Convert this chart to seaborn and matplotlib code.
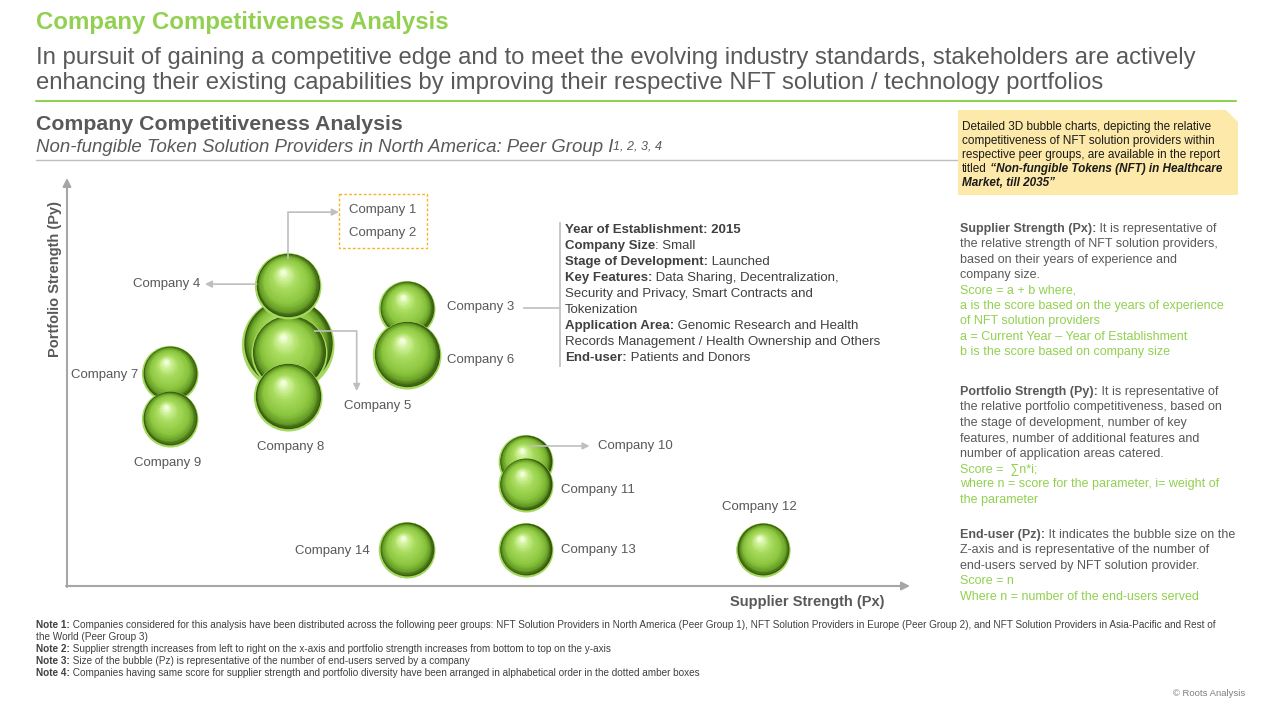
import matplotlib
matplotlib.use("Agg")
import matplotlib.pyplot as plt
import pandas as pd
import seaborn as sns
from matplotlib.colors import LinearSegmentedColormap
from matplotlib.transforms import offset_copy
from matplotlib.patches import Polygon, Rectangle

# Datos de las burbujas (Px = fuerza del proveedor, Py = fuerza del portafolio, Pz = usuarios finales)
companies = ["Company 1", "Company 5", "Company 4", "Company 8", "Company 7", "Company 9",
             "Company 3", "Company 6", "Company 10", "Company 11", "Company 14", "Company 13", "Company 12"]
supplier_px = [2.62, 2.63, 2.62, 2.62, 1.22, 1.22, 4.03, 4.03, 5.44, 5.44, 4.03, 5.44, 8.26]
portfolio_py = [5.91, 5.71, 7.35, 4.63, 5.20, 4.09, 6.79, 5.66, 3.04, 2.48, 0.88, 0.88, 0.88]
end_user_pz = [46, 38, 33, 34, 28, 28, 28, 34, 27, 27, 28, 27, 27]

df = pd.DataFrame({"company": companies, "px": supplier_px, "py": portfolio_py, "pz": end_user_pz})

GREEN = "#92d050"
GRAY = "#595959"
DARK = "#404040"
LINE = "#bfbfbf"
W, H = 1280, 720

sns.set_theme(style="white")
plt.rcParams["font.family"] = ["Liberation Sans", "DejaVu Sans"]

fig = plt.figure(figsize=(12.8, 7.2), dpi=100)
ax = fig.add_axes([67 / W, 1 - 586 / H, (910 - 67) / W, (586 - 178) / H])
ax.set_xlim(0, 10)
ax.set_ylim(0, 10)
ax.set_axis_off()

# capa de dibujo en pixeles (y hacia abajo)
ov = fig.add_axes([0, 0, 1, 1], zorder=5)
ov.set_xlim(0, W)
ov.set_ylim(H, 0)
ov.set_axis_off()


def size_pts(r):
    return (2 * r * 72 / fig.dpi) ** 2


# base de las burbujas
sns.scatterplot(data=df, x="px", y="py", s=df["pz"].map(size_pts).to_numpy(), color="#a3d95c",
                edgecolor="none", linewidth=0, legend=False, ax=ax, zorder=1, clip_on=False)
ax.set_axis_off()

sphere_cmap = LinearSegmentedColormap.from_list(
    "sphere", [(0, "#34560c"), (0.12, "#68a028"), (0.3, "#8cc63f"), (0.65, "#a9dc5f"),
               (0.9, "#d8f5a6"), (1, "#f4ffe0")])


def draw_sphere(x, y, r, z):
    ax.scatter([x], [y], s=size_pts(r), color="#a3d95c", lw=0, zorder=z, clip_on=False)
    n = 36
    for i in range(n):
        t = i / (n - 1)
        rr = r * (0.96 - 0.90 * t)
        tr = offset_copy(ax.transData, fig=fig, x=-0.15 * r * t, y=0.03 * r + 0.40 * r * t, units="dots")
        ax.scatter([x], [y], s=size_pts(rr), color=sphere_cmap(t), lw=0, transform=tr,
                   zorder=z + 0.001 * (i + 1), clip_on=False)


for k, row in df.iterrows():
    draw_sphere(row["px"], row["py"], row["pz"], 2 + k)


def bpx(name, dx=0, dy=0):
    i = companies.index(name)
    d = ax.transData.transform((supplier_px[i], portfolio_py[i]))
    x, y = ov.transData.inverted().transform(d)
    return x + dx, y + dy


def label(name, dx, dy, text=None, ha="left"):
    x, y = bpx(name, dx, dy)
    ov.text(x, y, text or name, fontsize=9.5, color=GRAY, ha=ha, va="center")


def arrow(p0, p1):
    ov.annotate("", xy=p1, xytext=p0,
                arrowprops=dict(arrowstyle="-|>", color=LINE, lw=1.2, mutation_scale=10, shrinkA=0, shrinkB=0))


def seg(pts):
    ov.plot([p[0] for p in pts], [p[1] for p in pts], color=LINE, lw=1.2, solid_capstyle="butt")


def run(x, y, parts, size, color=GRAY):
    prev = None
    for s, f in parts:
        kw = dict(fontsize=size, va="center", ha="left", color=color)
        if "b" in f:
            kw["fontweight"] = "bold"
        if "i" in f:
            kw["fontstyle"] = "italic"
        if "g" in f:
            kw["color"] = GREEN
        if prev is None:
            prev = ov.text(x, y, s, **kw)
        else:
            prev = ov.annotate(s, xy=(1, 0.5), xycoords=prev, **kw)
    return prev


# ejes con flechas
ov.annotate("", xy=(67, 178), xytext=(67, 587),
            arrowprops=dict(arrowstyle="-|>", color="#a6a6a6", lw=1.5, mutation_scale=12, shrinkA=0, shrinkB=0))
ov.annotate("", xy=(910, 586), xytext=(66, 586),
            arrowprops=dict(arrowstyle="-|>", color="#a6a6a6", lw=1.5, mutation_scale=12, shrinkA=0, shrinkB=0))
ov.text(55, 279, "Portfolio Strength (Py)", rotation=90, fontsize=10.5, fontweight="bold", color=GRAY,
        ha="center", va="center")
ov.text(884, 602, "Supplier Strength (Px)", fontsize=10.5, fontweight="bold", color=GRAY, ha="right", va="center")

# etiquetas de las empresas
label("Company 7", -32, 1, ha="right")
label("Company 9", -2, 44, ha="center")
label("Company 8", 3, 50, ha="center")
label("Company 3", 40, -2)
label("Company 6", 40, 5)
label("Company 11", 35, 5)
label("Company 13", 35, 0)
label("Company 14", -37, 1, ha="right")
label("Company 12", -4, -43, ha="center")
label("Company 5", 89, 53, ha="center")
label("Company 10", 72, -16)
label("Company 4", -88, -2, ha="right")

arrow(bpx("Company 4", -31, -2), bpx("Company 4", -83, -2))
arrow(bpx("Company 10", 4, -16), bpx("Company 10", 64, -16))
seg([bpx("Company 5", 25, -22), bpx("Company 5", 68, -22)])
arrow(bpx("Company 5", 68, -22), bpx("Company 5", 68, 38))
seg([bpx("Company 4", 0, -27), bpx("Company 4", 0, -74)])
arrow(bpx("Company 4", 0, -74), bpx("Company 4", 51, -74))

bx, by = bpx("Company 4", 51, -92)
ov.add_patch(Rectangle((bx, by), 88, 54, fill=False, edgecolor="#f5b325", lw=1, linestyle=(0, (2, 1.5))))
label("Company 4", 95, -76, text="Company 1", ha="center")
label("Company 4", 95, -53, text="Company 2", ha="center")

# detalle de Company 3
seg([bpx("Company 3", 116, -1), (560, bpx("Company 3", 116, -1)[1])])
seg([(560, 222), (560, 367)])
info = [
    [("Year of Establishment: 2015", "b")],
    [("Company Size", "b"), (": Small", "r")],
    [("Stage of Development:", "b"), (" Launched", "r")],
    [("Key Features:", "b"), (" Data Sharing, Decentralization,", "r")],
    [("Security and Privacy, Smart Contracts and", "r")],
    [("Tokenization", "r")],
    [("Application Area:", "b"), (" Genomic Research and Health", "r")],
    [("Records Management / Health Ownership and Others", "r")],
    [("End-user:", "b"), (" Patients and Donors", "r")],
]
for j, parts in enumerate(info):
    run(565, 230 + 16 * j, parts, 9.5, color=DARK)

# encabezado
ov.text(36, 23, "Company Competitiveness Analysis", fontsize=17.3, fontweight="bold", color=GREEN, va="center")
ov.text(36, 58, "In pursuit of gaining a competitive edge and to meet the evolving industry standards, stakeholders are actively",
        fontsize=17.2, color=GRAY, va="center")
ov.text(36, 83, "enhancing their existing capabilities by improving their respective NFT solution / technology portfolios",
        fontsize=17.2, color=GRAY, va="center")
ov.plot([36, 1236], [101, 101], color=GREEN, lw=1.5)
ov.text(36, 124, "Company Competitiveness Analysis", fontsize=15.3, fontweight="bold", color=GRAY, va="center")
sub = ov.text(36, 147, "Non-fungible Token Solution Providers in North America: Peer Group I", fontsize=13.4,
              fontstyle="italic", color=GRAY, va="center")
ov.annotate("1, 2, 3, 4", xy=(1, 0.9), xycoords=sub, xytext=(0, 0), textcoords="offset points",
            fontsize=9, fontstyle="italic", color=GRAY, va="top", ha="left")
ov.plot([36, 1236], [160, 160], color=LINE, lw=1)

# recuadro amarillo
ov.add_patch(Polygon([(958, 110), (1226, 110), (1238, 122), (1238, 195), (958, 195)], closed=True,
                     facecolor="#fde9a9", edgecolor="none", zorder=3))
note_lines = [
    [("Detailed 3D bubble charts, depicting the relative", "r")],
    [("competitiveness of NFT solution providers within", "r")],
    [("respective peer groups, are available in the report", "r")],
    [("titled", "r"), (" \u201cNon-fungible Tokens (NFT) in Healthcare", "bi")],
    [("Market, till 2035\u201d", "bi")],
]
for j, parts in enumerate(note_lines):
    run(962, 127 + 14 * j, parts, 8.5, color="#1a1a1a")

# panel derecho
blocks = [
    (229, [
        [("Supplier Strength (Px):", "b"), (" It is representative of", "r")],
        [("the relative strength of NFT solution providers,", "r")],
        [("based on their years of experience and", "r")],
        [("company size.", "r")],
        [("Score = a + b where,", "g")],
        [("a is the score based on the years of experience", "g")],
        [("of NFT solution providers", "g")],
        [("a = Current Year \u2013 Year of Establishment", "g")],
        [("b is the score based on company size", "g")],
    ]),
    (392, [
        [("Portfolio Strength (Py):", "b"), (" It is representative of", "r")],
        [("the relative portfolio competitiveness, based on", "r")],
        [("the stage of development, number of key", "r")],
        [("features, number of additional features and", "r")],
        [("number of application areas catered.", "r")],
        [("Score =  \u2211n*i;", "g")],
        [("where n = score for the parameter, i= weight of", "g")],
        [("the parameter", "g")],
    ]),
    (535, [
        [("End-user (Pz):", "b"), (" It indicates the bubble size on the", "r")],
        [("Z-axis and is representative of the number of", "r")],
        [("end-users served by NFT solution provider.", "r")],
        [("Score = n", "g")],
        [("Where n = number of the end-users served", "g")],
    ]),
]
for y0, lines in blocks:
    for j, parts in enumerate(lines):
        run(960, y0 + 15.4 * j, parts, 9.0)

# notas
notes = [
    [("Note 1:", "b"), (" Companies considered for this analysis have been distributed across the following peer groups: NFT Solution Providers in North America (Peer Group 1), NFT Solution Providers in Europe (Peer Group 2), and NFT Solution Providers in Asia-Pacific and Rest of", "r")],
    [("the World (Peer Group 3)", "r")],
    [("Note 2:", "b"), (" Supplier strength increases from left to right on the x-axis and portfolio strength increases from bottom to top on the y-axis", "r")],
    [("Note 3:", "b"), (" Size of the bubble (Pz) is representative of the number of end-users served by a company", "r")],
    [("Note 4:", "b"), (" Companies having same score for supplier strength and portfolio diversity have been arranged in alphabetical order in the dotted amber boxes", "r")],
]
for j, parts in enumerate(notes):
    run(36, 625 + 12 * j, parts, 7.2, color=DARK)

ov.text(1245, 694, "\u00a9 Roots Analysis", fontsize=6.8, color="#7f7f7f", ha="right", va="center")

plt.savefig("out.png", dpi=100)
